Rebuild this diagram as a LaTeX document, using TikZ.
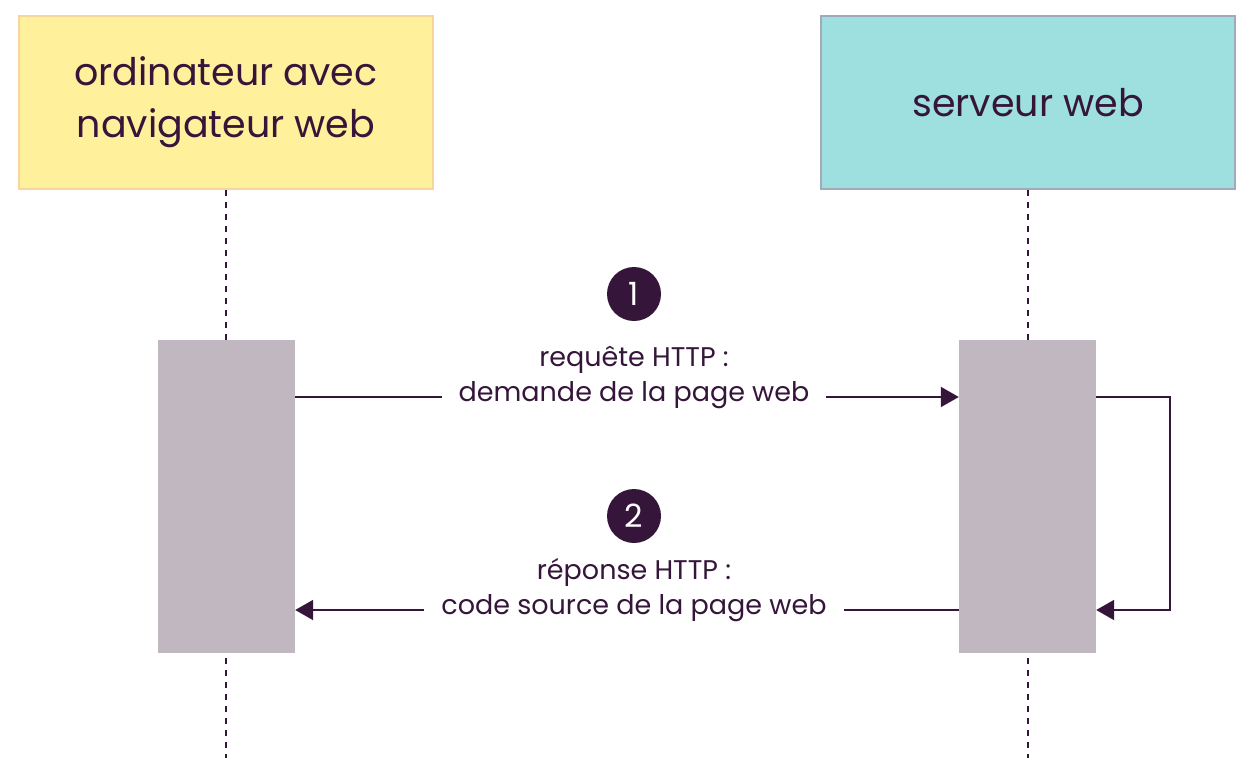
\documentclass[tikz,border=0pt]{standalone}
\usepackage{fontspec}
\setmainfont{Poppins}
\usepackage{tikz}
\usetikzlibrary{arrows.meta,positioning}
\definecolor{ink}{HTML}{35163A}
\definecolor{clientfill}{HTML}{FFF09B}
\definecolor{clientline}{HTML}{F8D59C}
\definecolor{serverfill}{HTML}{9EDFE0}
\definecolor{serverline}{HTML}{A3A9BA}
\definecolor{activefill}{HTML}{C1B7C0}
\tikzset{
  actor/.style={draw, line width=2pt, minimum width=414pt, minimum height=173pt,
                align=center, text=ink, font=\fontsize{38}{52}\selectfont},
  active/.style={fill=activefill, minimum width=137pt, minimum height=313pt, inner sep=0pt},
  lifeline/.style={dashed, line width=1.5pt, ink, dash pattern=on 6pt off 6pt},
  msg/.style={line width=2pt, ink, -{Triangle[length=18pt,width=20pt]}},
  msglabel/.style={fill=white, align=center, text=ink, inner xsep=17pt,
                   font=\fontsize{27}{35}\selectfont},
  stepnum/.style={circle, fill=ink, text=white, minimum size=54pt, inner sep=0pt,
                  font=\fontsize{32}{32}\selectfont}
}
\begin{document}
\begin{tikzpicture}[x=1pt,y=-1pt]
\useasboundingbox (0,0) rectangle (1251,758);
% participants
\node[actor, fill=clientfill, draw=clientline] (client) at (226,102.5) {ordinateur avec\\ navigateur web};
\node[actor, fill=serverfill, draw=serverline] (server) at (1028,102.5) {serveur web};
\coordinate (clientend) at (226,758);
\coordinate (serverend) at (1028,758);
\draw[lifeline] (client.south) -- (clientend);
\draw[lifeline] (server.south) -- (serverend);
% activation bars
\node[active] (clientbar) at (226.5,496.5) {};
\node[active] (serverbar) at (1027.5,496.5) {};
\coordinate (reqstart) at (clientbar.east |- 0,397);
\coordinate (reqend) at (serverbar.west |- 0,397);
\coordinate (repstart) at (serverbar.west |- 0,610);
\coordinate (repend) at (clientbar.east |- 0,610);
\coordinate (selfout) at (serverbar.east |- 0,397);
\coordinate (selfin) at (serverbar.east |- 0,610);
% messages
\draw[msg] (reqstart) -- node[msglabel, xshift=7pt, yshift=20pt] (reqlabel) {requête HTTP :\\ demande de la page web} (reqend);
\draw[msg] (repstart) -- node[msglabel, xshift=7pt, yshift=20pt] (replabel) {réponse HTTP :\\ code source de la page web} (repend);
\draw[msg] (selfout) -- ++(74,0) |- (selfin);
\node[stepnum] (step1) at (634,294) {1};
\node[stepnum] (step2) at (634,516) {2};
\end{tikzpicture}
\end{document}
